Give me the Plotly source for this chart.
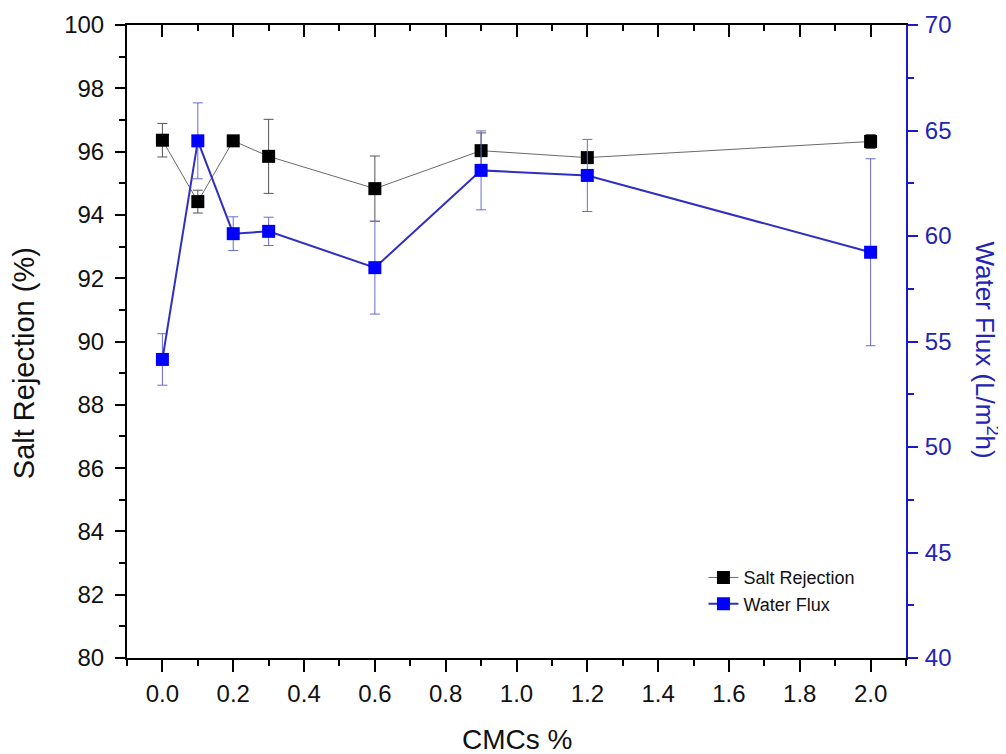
import plotly.graph_objects as go

cmc = [0.0, 0.1, 0.2, 0.3, 0.6, 0.9, 1.2, 2.0]
salt_rejection = [96.36, 94.42, 96.34, 95.85, 94.83, 96.03, 95.81, 96.32]
salt_err = [0.53, 0.36, 0.05, 1.17, 1.03, 0.56, 0.15, 0.22]
water_flux = [54.15, 64.51, 60.11, 60.22, 58.5, 63.11, 62.87, 59.23]
water_err = [1.22, 1.8, 0.8, 0.67, 2.2, 1.87, 1.71, 4.43]

FONT = "Liberation Sans, Arial, sans-serif"
BLUE_AX = "#1a1ac8"
BLUE_TXT = "#2323b4"

fig = go.Figure()
fig.add_trace(go.Scatter(
    x=cmc, y=salt_rejection, name="Salt Rejection", mode="lines+markers",
    line=dict(color="#6a6a6a", width=1),
    marker=dict(symbol="square", size=13, color="#000000"),
    error_y=dict(type="data", array=salt_err, color="#555555", thickness=1, width=5),
    yaxis="y", xaxis="x",
))
fig.add_trace(go.Scatter(
    x=cmc, y=water_flux, name="Water Flux", mode="lines+markers",
    line=dict(color="#2f2fc0", width=2),
    marker=dict(symbol="square", size=13, color="#0000ff"),
    error_y=dict(type="data", array=water_err, color="#6b6bd0", thickness=1, width=5),
    yaxis="y2", xaxis="x",
))
fig.add_trace(go.Scatter(x=[None], y=[None], xaxis="x2", yaxis="y",
                         showlegend=False, hoverinfo="skip"))

fig.update_layout(
    width=998, height=746,
    margin=dict(l=119, r=100, t=17, b=96, autoexpand=False),
    paper_bgcolor="white", plot_bgcolor="white",
    font=dict(family=FONT, size=24, color="#111111"),
    showlegend=True,
    legend=dict(x=0.740, y=0.156, xanchor="left", yanchor="top",
                font=dict(size=18, color="#111111"), bgcolor="rgba(0,0,0,0)",
                itemwidth=30),
    xaxis=dict(range=[-0.1, 2.1], tick0=0, dtick=0.2, tickformat=".1f",
               showgrid=False, zeroline=False, showline=True, linecolor="#000000",
               linewidth=2, ticks="outside", ticklen=12, tickwidth=2, tickcolor="#000000",
               minor=dict(dtick=0.1, tick0=0, ticks="outside", ticklen=6, tickwidth=2,
                          tickcolor="#000000", showgrid=False),
               ticklabelstandoff=1, anchor="y", automargin=False),
    xaxis2=dict(range=[-0.1, 2.1], tick0=0, dtick=0.2, overlaying="x", side="top",
                anchor="y", showgrid=False, zeroline=False, showline=True,
                linecolor="#000000", linewidth=2, ticks="inside", ticklen=12,
                tickwidth=2, tickcolor="#000000", showticklabels=False, automargin=False,
                minor=dict(dtick=0.1, tick0=0, ticks="inside", ticklen=6, tickwidth=2,
                           tickcolor="#000000", showgrid=False)),
    yaxis=dict(range=[80, 100], tick0=80, dtick=2, showgrid=False, zeroline=False,
               showline=True, linecolor="#000000", linewidth=2, ticks="outside",
               ticklen=10, tickwidth=2, tickcolor="#000000", automargin=False,
               minor=dict(dtick=1, tick0=80, ticks="outside", ticklen=6, tickwidth=2,
                          tickcolor="#000000", showgrid=False),
               ticklabelstandoff=6),
    yaxis2=dict(range=[40, 70], tick0=40, dtick=5, overlaying="y", side="right",
                showgrid=False, zeroline=False, showline=True, linecolor=BLUE_AX,
                linewidth=2, ticks="outside", ticklen=10, tickwidth=2, tickcolor=BLUE_AX,
                tickfont=dict(color=BLUE_TXT, size=24), automargin=False,
                minor=dict(dtick=2.5, tick0=40, ticks="outside", ticklen=6, tickwidth=2,
                           tickcolor=BLUE_AX, showgrid=False),
                ticklabelstandoff=2),
    annotations=[
        dict(text="Salt Rejection (%)", xref="paper", yref="paper", x=-0.132, y=0.466,
             xanchor="center", yanchor="middle", textangle=-90, showarrow=False,
             font=dict(size=29, color="#111111", family=FONT)),
        dict(text="Water Flux (L/m<sup>2</sup>h)", xref="paper", yref="paper",
             x=1.103, y=0.487, xanchor="center", yanchor="middle", textangle=90,
             showarrow=False, font=dict(size=26, color=BLUE_TXT, family=FONT)),
        dict(text="CMCs %", xref="paper", yref="paper", x=0.5, y=-0.128,
             xanchor="center", yanchor="middle", showarrow=False,
             font=dict(size=28, color="#111111", family=FONT)),
    ],
)

fig.write_html("out.html")
